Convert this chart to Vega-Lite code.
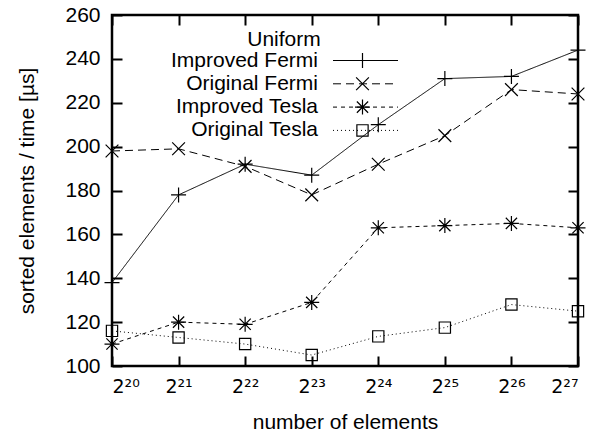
{
 "$schema": "https://vega.github.io/schema/vega-lite/v6.json",
 "width": 466, "height": 351,
 "autosize": {"type": "none"},
 "padding": {"left": 112, "top": 15, "right": 20, "bottom": 69},
 "config": {
  "font": "Liberation Sans",
  "view": {"stroke": "black", "strokeWidth": 2.5},
  "axis": {"grid": false, "domain": false, "labelFont": "Liberation Sans", "labelFontSize": 21, "labelColor": "black", "titleFont": "Liberation Sans", "titleFontSize": 21, "titleColor": "black", "titleFontWeight": "normal", "tickColor": "black", "tickSize": -10, "tickWidth": 2},
  "legend": {"padding": 0, "labelFont": "Liberation Sans", "labelFontSize": 21, "labelColor": "black", "labelLimit": 300, "titleFont": "Liberation Sans", "titleFontSize": 21, "titleFontWeight": "normal", "titleColor": "black", "titlePadding": 0, "rowPadding": 1.3, "titleAnchor": "middle"}
 },
 "data": {"values": [
  {"series": "Improved Fermi", "exp": 20, "value": 138},
  {"series": "Improved Fermi", "exp": 21, "value": 178},
  {"series": "Improved Fermi", "exp": 22, "value": 192},
  {"series": "Improved Fermi", "exp": 23, "value": 187},
  {"series": "Improved Fermi", "exp": 24, "value": 210},
  {"series": "Improved Fermi", "exp": 25, "value": 231},
  {"series": "Improved Fermi", "exp": 26, "value": 232},
  {"series": "Improved Fermi", "exp": 27, "value": 244},
  {"series": "Original Fermi", "exp": 20, "value": 198},
  {"series": "Original Fermi", "exp": 21, "value": 199},
  {"series": "Original Fermi", "exp": 22, "value": 191},
  {"series": "Original Fermi", "exp": 23, "value": 178},
  {"series": "Original Fermi", "exp": 24, "value": 192},
  {"series": "Original Fermi", "exp": 25, "value": 205},
  {"series": "Original Fermi", "exp": 26, "value": 226},
  {"series": "Original Fermi", "exp": 27, "value": 224},
  {"series": "Improved Tesla", "exp": 20, "value": 110},
  {"series": "Improved Tesla", "exp": 21, "value": 120},
  {"series": "Improved Tesla", "exp": 22, "value": 119},
  {"series": "Improved Tesla", "exp": 23, "value": 129},
  {"series": "Improved Tesla", "exp": 24, "value": 163},
  {"series": "Improved Tesla", "exp": 25, "value": 164},
  {"series": "Improved Tesla", "exp": 26, "value": 165},
  {"series": "Improved Tesla", "exp": 27, "value": 163},
  {"series": "Original Tesla", "exp": 20, "value": 116},
  {"series": "Original Tesla", "exp": 21, "value": 113},
  {"series": "Original Tesla", "exp": 22, "value": 110},
  {"series": "Original Tesla", "exp": 23, "value": 105},
  {"series": "Original Tesla", "exp": 24, "value": 113.5},
  {"series": "Original Tesla", "exp": 25, "value": 117.5},
  {"series": "Original Tesla", "exp": 26, "value": 128},
  {"series": "Original Tesla", "exp": 27, "value": 125}
 ]},
 "layer": [
  {
   "mark": {"type": "line", "color": "black", "strokeWidth": 1},
   "encoding": {
    "x": {"field": "exp", "type": "quantitative", "scale": {"domain": [20, 27], "nice": false, "zero": false},
          "axis": {"orient": "bottom", "values": [20, 21, 22, 23, 24, 25, 26, 27], "labelFont": "DejaVu Sans", "labelFontSize": 19, "labelPadding": 21, "labelExpr": "'2' + ['⁰','¹','²','³','⁴','⁵','⁶','⁷','⁸','⁹'][floor(datum.value/10)] + ['⁰','¹','²','³','⁴','⁵','⁶','⁷','⁸','⁹'][datum.value%10]", "title": "number of elements", "titlePadding": 15}},
    "y": {"field": "value", "type": "quantitative", "scale": {"domain": [100, 260], "nice": false, "zero": false},
          "axis": {"orient": "left", "values": [100, 120, 140, 160, 180, 200, 220, 240, 260], "labelPadding": 22, "title": "sorted elements / time [µs]", "titlePadding": 27}},
    "strokeDash": {"field": "series", "type": "nominal",
     "scale": {"domain": ["Improved Fermi", "Original Fermi", "Improved Tesla", "Original Tesla"], "range": [[1, 0], [8, 5], [4, 4], [1, 3]]},
     "legend": {"title": "Uniform", "orient": "none", "legendX": 135, "legendY": 14, "symbolType": "M-3.25,0L3.25,0", "symbolSize": 400, "symbolStrokeColor": "black", "symbolStrokeWidth": 1, "labelAlign": "right", "labelOffset": -58,
                "encode": {"symbols": {"update": {"shape": {"value": "M-3.25,0L3.25,0"}}}, "title": {"update": {"dx": {"value": -94}}}}}}
   }
  },
  {
   "mark": {"type": "point", "color": "black", "filled": false, "strokeWidth": 1.2, "size": 225, "opacity": 1},
   "encoding": {
    "x": {"field": "exp", "type": "quantitative", "scale": {"domain": [20, 27], "nice": false, "zero": false},
          "axis": {"orient": "top", "values": [20, 21, 22, 23, 24, 25, 26, 27], "labels": false, "title": null}},
    "y": {"field": "value", "type": "quantitative", "scale": {"domain": [100, 260], "nice": false, "zero": false},
          "axis": {"orient": "right", "values": [100, 120, 140, 160, 180, 200, 220, 240, 260], "labels": false, "title": null}},
    "shape": {"field": "series", "type": "nominal",
     "scale": {"domain": ["Improved Fermi", "Original Fermi", "Improved Tesla", "Original Tesla", " "], "range": ["M-1,0L1,0M0,-1L0,1", "M-0.85,-0.85L0.85,0.85M-0.85,0.85L0.85,-0.85", "M-1,0L1,0M0,-1L0,1M-0.75,-0.75L0.75,0.75M-0.75,0.75L0.75,-0.75", "M-0.75,-0.75L0.75,-0.75L0.75,0.75L-0.75,0.75Z", "M0,0"]},
     "legend": {"title": "Uniform", "titleOpacity": 0, "labelOpacity": 0, "orient": "none", "legendX": 240, "legendY": 14, "values": ["Improved Fermi", "Original Fermi", "Improved Tesla", "Original Tesla"], "symbolSize": 225, "symbolStrokeColor": "black", "symbolStrokeWidth": 1.2, "symbolFillColor": "transparent"}}
   }
  }
 ],
 "resolve": {"axis": {"x": "independent", "y": "independent"}}
}
